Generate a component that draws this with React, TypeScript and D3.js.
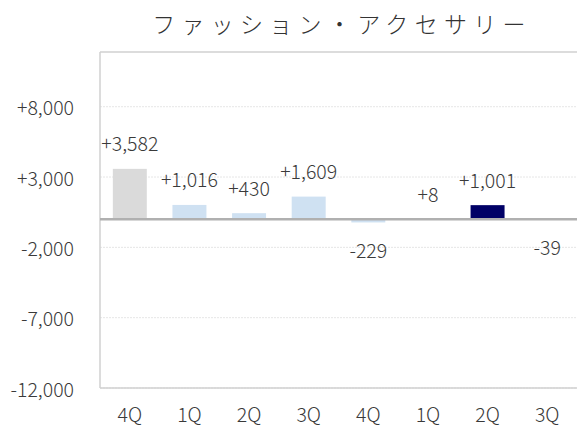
import React from "react";
import * as d3 from "d3";

const title = "ファッション・アクセサリー";
const categories = ["4Q", "1Q", "2Q", "3Q", "4Q", "1Q", "2Q", "3Q"];
const values = [3582, 1016, 430, 1609, -229, 8, 1001, -39];
const barColors = ["#dadada", "#cfe1f2", "#cfe1f2", "#cfe1f2", "#cfe1f2", "#cfe1f2", "#000066", "#000066"];
const yTicks = [8000, 3000, -2000, -7000, -12000];

const W = 577;
const H = 430;
const M = { left: 100, right: 0, top: 52, bottom: 42 };
const FONT = "'Noto Sans CJK JP', 'Noto Sans', sans-serif";

const fmt = (v: number) => (v > 0 ? "+" : v < 0 ? "-" : "") + d3.format(",")(Math.abs(v));

export default function App() {
  const x = d3
    .scaleBand<number>()
    .domain(categories.map((_, i) => i))
    .range([M.left, W - M.right])
    .paddingInner(0.43)
    .paddingOuter(0.215);
  const y = d3.scaleLinear().domain([-12000, 11890]).range([H - M.bottom, M.top]);
  const y0 = y(0);
  const step = x.step();
  const innerLeft = M.left;

  return (
    <svg
      width={W}
      height={H}
      style={{ position: "absolute", left: 0, top: 0, background: "#fff" }}
      fontFamily={FONT}
      fontWeight={300}
    >
      <text
        x={342}
        y={33}
        textAnchor="middle"
        fontSize={23}
        letterSpacing={6.3}
        fill="#333"
      >
        {title}
      </text>
      {yTicks.map((t) => (
        <line
          key={"g" + t}
          x1={innerLeft}
          x2={W}
          y1={y(t)}
          y2={y(t)}
          stroke="#e6e6e6"
          strokeWidth={1}
          strokeDasharray="2,1"
        />
      ))}
      <line x1={innerLeft} x2={W} y1={M.top} y2={M.top} stroke="#d0d0d0" strokeWidth={1.5} />
      <line x1={innerLeft} x2={W} y1={H - M.bottom} y2={H - M.bottom} stroke="#d0d0d0" strokeWidth={1.5} />
      <line x1={innerLeft} x2={innerLeft} y1={M.top} y2={H - M.bottom} stroke="#d0d0d0" strokeWidth={1.5} />
      {yTicks.map((t) => (
        <text
          key={"yl" + t}
          x={74}
          y={y(t)}
          textAnchor="end"
          dominantBaseline="central"
          fontSize={19.5}
          fill="#3a3a3a"
        >
          {fmt(t)}
        </text>
      ))}
      {values.map((v, i) => (
        <rect
          key={"b" + i}
          x={x(i)}
          width={x.bandwidth()}
          y={Math.min(y(v), y0)}
          height={Math.abs(y(v) - y0)}
          fill={barColors[i]}
        />
      ))}
      <line x1={innerLeft} x2={W} y1={y0} y2={y0} stroke="#b0b0b0" strokeWidth={2.5} />
      {values.map((v, i) => (
        <text
          key={"vl" + i}
          x={(x(i) as number) + x.bandwidth() / 2}
          y={v >= 0 ? y(v) - 26 : y(v) + 27}
          textAnchor="middle"
          dominantBaseline="central"
          fontSize={19.5}
          fill="#3a3a3a"
        >
          {fmt(v)}
        </text>
      ))}
      {categories.map((c, i) => (
        <text
          key={"xl" + i}
          x={M.left + step * i + step / 2}
          y={413}
          textAnchor="middle"
          dominantBaseline="central"
          fontSize={19.5}
          fill="#3a3a3a"
        >
          {c}
        </text>
      ))}
    </svg>
  );
}
